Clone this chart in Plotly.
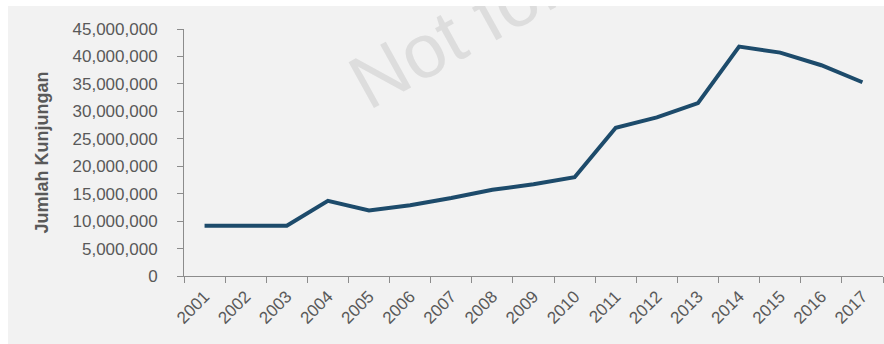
import plotly.graph_objects as go

years = ["2001", "2002", "2003", "2004", "2005", "2006", "2007", "2008", "2009",
         "2010", "2011", "2012", "2013", "2014", "2015", "2016", "2017"]
visits = [9150000, 9150000, 9150000, 13700000, 11950000, 12900000, 14200000,
          15700000, 16700000, 18000000, 27000000, 28900000, 31500000,
          41800000, 40700000, 38400000, 35300000]
y_title = "Jumlah Kunjungan"
watermark = "Not for"

# page offset of the figure (white page border at top and left)
OX, OY = 8, 6
W, H = 884 - OX, 344 - OY
L, R, T, B = 176, 1, 22.5, 68
pw, ph = W - L - R, H - T - B


def px_x(p):
    return (p - OX - L) / pw


def px_y(p):
    return (H - B - (p - OY)) / ph


grey = "#595959"
axis_col = "#8c8c8c"
font_family = "Liberation Sans, Arial, sans-serif"

fig = go.Figure()
fig.add_trace(go.Scatter(
    x=years, y=visits, mode="lines",
    line=dict(color="#1d4b6b", width=4),
    showlegend=False,
))

shapes = [
    dict(type="rect", xref="paper", yref="paper",
         x0=px_x(446), x1=px_x(458), y0=px_y(32), y1=px_y(20),
         line=dict(width=0), fillcolor="rgba(0,0,0,0)", layer="below",
         label=dict(text=watermark, textangle=-29, textposition="middle center",
                    font=dict(family=font_family, size=76, color="#dddddd"))),
]

fig.update_layout(
    width=W, height=H,
    margin=dict(l=L, r=R, t=T, b=B, autoexpand=False),
    paper_bgcolor="#f2f2f2",
    plot_bgcolor="rgba(0,0,0,0)",
    font=dict(family=font_family, color=grey),
    shapes=shapes,
    xaxis=dict(
        type="category", tickson="boundaries",
        showline=True, linecolor=axis_col, linewidth=1,
        ticks="outside", ticklen=6, tickcolor=axis_col,
        tickangle=-45, tickfont=dict(size=17, color=grey),
        ticklabelstandoff=3,
        showgrid=False, zeroline=False, automargin=False,
        range=[-0.5, 16.5],
    ),
    yaxis=dict(
        range=[0, 45000000], dtick=5000000, tickformat=",",
        showline=True, linecolor=axis_col, linewidth=1,
        ticks="outside", ticklen=6, tickcolor=axis_col,
        tickfont=dict(size=17, color=grey), ticklabelstandoff=16,
        showgrid=False, zeroline=False, automargin=False,
        title=dict(text="<b>" + y_title + "</b>",
                   font=dict(size=18, color=grey), standoff=19),
    ),
)

fig.write_html("out.html",
               post_script="document.body.style.margin='%dpx 0 0 %dpx';" % (OY, OX))
